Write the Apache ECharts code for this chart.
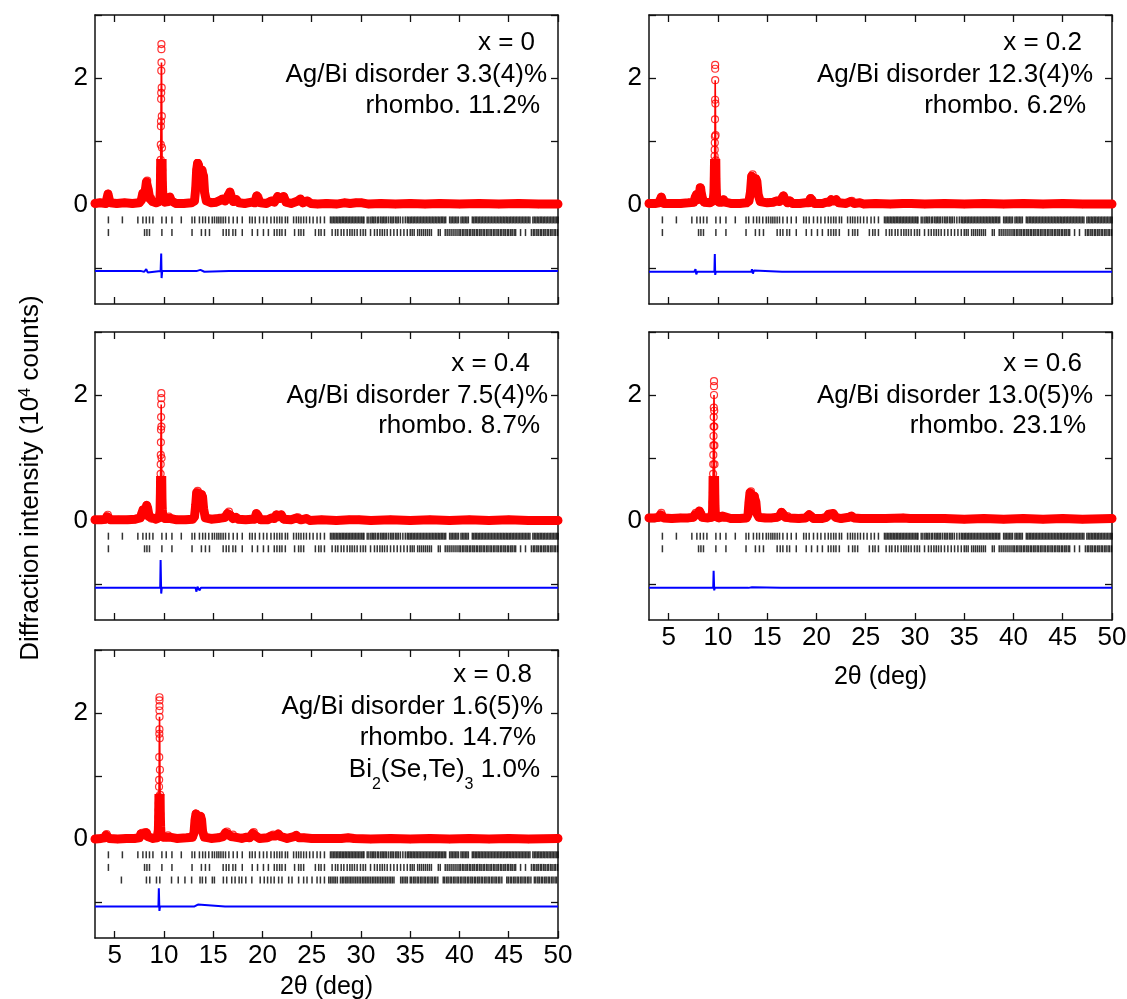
<!DOCTYPE html>
<html>
<head>
<meta charset="utf-8">
<title>Rietveld patterns</title>
<script src="https://cdn.jsdelivr.net/npm/echarts@6/dist/echarts.min.js"></script>
<style>
html, body { margin: 0; padding: 0; background: #fff; }
#chart { width: 1127px; height: 999px; }
</style>
</head>
<body>
<div id="chart"></div>
<script>
// ---- axis ticks / labels ----
var thetaTicks = [5, 10, 15, 20, 25, 30, 35, 40, 45, 50];
var intTicks = [-1, 0, 1, 2, 3];
var intLabels = [0, 2];

var obs0 = [[3,.02],[3.5,.03],[4.1,.02],[4.22,.1],[4.32,.17],[4.42,.1],[4.55,.03],[5.2,.02],[6,.03],[6.8,.02],[7.5,.03],[7.7,.07],[7.85,.18],[7.98,.12],[8.12,.24],[8.22,.36],[8.3,.38],[8.4,.24],[8.55,.1],[8.7,.1],[8.85,.05],[9.2,.03],[9.5,.05],[9.6,.1],[9.63,.24],[9.65,.45],[9.66,.57],[9.67,.71],[9.68,.95],[9.69,1.24],[9.7,1.32],[9.71,1.67],[9.72,1.77],[9.73,2.12],[9.75,2.25],[9.77,1.85],[9.78,1.4],[9.8,.9],[9.82,.55],[9.84,.34],[9.87,.2],[9.92,.08],[10.1,.04],[10.45,.05],[10.6,.12],[10.75,.06],[11.2,.02],[12,.02],[12.8,.03],[13.1,.06],[13.22,.25],[13.32,.55],[13.42,.66],[13.52,.62],[13.62,.5],[13.72,.5],[13.82,.55],[13.92,.54],[14.02,.45],[14.12,.2],[14.3,.06],[14.8,.03],[15.3,.04],[15.6,.06],[15.95,.09],[16.2,.06],[16.5,.14],[16.7,.2],[16.85,.12],[17.05,.05],[17.35,.08],[17.6,.03],[18.2,.02],[18.9,.04],[19.2,.03],[19.42,.14],[19.58,.12],[19.8,.03],[20.4,.02],[20.9,.06],[21.2,.04],[21.55,.13],[21.8,.1],[22.15,.13],[22.4,.04],[22.9,.02],[23.6,.06],[23.85,.09],[24.1,.03],[24.55,.06],[24.9,.02],[25.6,.01],[26.5,.02],[27.5,.01],[28.3,.03],[28.9,.02],[29.5,.03],[30.1,.03],[30.8,.01],[32,.02],[33.5,.01],[35,.02],[36.5,.01],[38,.02],[40,.01],[42,.02],[44,.01],[46,.02],[48,.01],[50,.01]];
var top0 = [[9.74,2.46],[9.74,2.54]];
var diff0 = [[3,-1.05],[4.3,-1.05],[4.35,-1.04],[4.4,-1.06],[4.5,-1.05],[7.7,-1.05],[7.9,-1.03],[8,-1.06],[8.2,-1.02],[8.35,-1.07],[8.5,-1.05],[9.66,-1.05],[9.72,-0.77],[9.76,-1.16],[9.82,-1.05],[10.6,-1.05],[10.65,-1.04],[10.7,-1.05],[13.3,-1.05],[13.4,-1.02],[13.5,-1.05],[13.7,-1.03],[13.9,-1.05],[14.1,-1.06],[14.3,-1.05],[16.6,-1.05],[16.7,-1.08],[16.8,-1.05],[19.4,-1.05],[19.45,-1.04],[19.5,-1.06],[19.6,-1.05],[20.9,-1.05],[21,-1.07],[21.1,-1.05],[23.5,-1.05],[23.6,-1.07],[23.7,-1.05],[28.2,-1.05],[28.3,-1.04],[28.4,-1.05],[50,-1.05]];

var obs1 = [[3,.02],[3.6,.02],[4.05,.03],[4.15,.08],[4.25,.12],[4.35,.07],[4.5,.02],[5.3,.02],[6.2,.02],[7,.03],[7.55,.04],[7.7,.12],[7.82,.16],[7.95,.08],[8.1,.15],[8.2,.27],[8.3,.25],[8.42,.1],[8.6,.04],[9.2,.03],[9.5,.06],[9.58,.16],[9.6,.24],[9.61,.32],[9.62,.4],[9.63,.47],[9.64,.58],[9.65,.66],[9.66,.77],[9.67,.87],[9.68,.98],[9.69,1.08],[9.7,1.35],[9.71,1.66],[9.72,1.97],[9.74,1.6],[9.76,1.1],[9.78,.7],[9.8,.42],[9.83,.22],[9.88,.08],[10.1,.04],[10.4,.04],[10.57,.08],[10.72,.04],[11.3,.02],[12.2,.02],[12.9,.03],[13.15,.06],[13.3,.2],[13.42,.45],[13.52,.48],[13.62,.4],[13.72,.38],[13.85,.41],[13.95,.37],[14.08,.16],[14.3,.05],[15,.03],[15.6,.04],[15.95,.06],[16.25,.05],[16.5,.1],[16.65,.14],[16.8,.08],[17.05,.03],[17.3,.06],[17.55,.02],[18.3,.02],[18.9,.03],[19.2,.03],[19.4,.1],[19.55,.08],[19.8,.02],[20.6,.02],[21,.04],[21.3,.04],[21.5,.08],[21.75,.06],[22,.08],[22.25,.03],[23,.02],[23.45,.05],[23.6,.06],[23.85,.02],[24.4,.03],[24.8,.01],[26,.02],[27.5,.01],[28.8,.02],[29.6,.02],[31,.01],[33,.02],[35,.01],[37,.02],[39,.01],[41,.02],[43,.01],[45,.02],[47,.01],[50,.01]];
var top1 = [[9.715,2.15],[9.715,2.21]];
var diff1 = [[3,-1.06],[4.2,-1.06],[4.25,-1.05],[4.3,-1.06],[7.6,-1.06],[7.72,-1.02],[7.8,-1.1],[7.9,-1.06],[9.64,-1.06],[9.68,-0.78],[9.72,-1.11],[9.78,-1.06],[13.4,-1.06],[13.45,-1.02],[13.55,-1.09],[13.65,-1.04],[13.8,-1.06],[16.5,-1.06],[16.6,-1.04],[16.7,-1.07],[16.8,-1.06],[19.35,-1.06],[19.4,-1.03],[19.5,-1.06],[21.5,-1.06],[21.6,-1.07],[21.7,-1.06],[23.4,-1.06],[23.5,-1.08],[23.6,-1.06],[50,-1.06]];

var obs2 = [[3,.02],[3.6,.02],[4.1,.03],[4.2,.07],[4.3,.1],[4.4,.06],[4.55,.02],[5.4,.02],[6.3,.02],[7.1,.03],[7.6,.05],[7.75,.12],[7.88,.18],[8,.1],[8.15,.18],[8.25,.25],[8.35,.2],[8.5,.07],[8.7,.04],[9.2,.03],[9.5,.05],[9.6,.15],[9.62,.3],[9.64,.45],[9.65,.6],[9.66,.75],[9.67,.9],[9.68,1.05],[9.69,1.25],[9.7,1.45],[9.71,1.65],[9.72,1.85],[9.74,1.5],[9.76,1],[9.78,.6],[9.8,.35],[9.83,.18],[9.88,.07],[10.1,.04],[10.35,.04],[10.5,.07],[10.65,.04],[11.3,.02],[12.2,.02],[12.9,.03],[13.1,.07],[13.22,.25],[13.32,.45],[13.42,.48],[13.52,.45],[13.62,.38],[13.72,.4],[13.82,.42],[13.92,.38],[14.02,.2],[14.2,.05],[14.8,.03],[15.5,.04],[15.95,.05],[16.2,.06],[16.45,.12],[16.6,.15],[16.75,.09],[17,.04],[17.3,.06],[17.55,.03],[18.3,.02],[18.9,.03],[19.2,.03],[19.38,.12],[19.55,.09],[19.8,.02],[20.5,.02],[20.95,.05],[21.2,.04],[21.42,.1],[21.65,.07],[21.9,.1],[22.15,.03],[22.9,.02],[23.45,.05],[23.62,.06],[23.9,.02],[24.45,.04],[24.8,.01],[26,.02],[27.5,.01],[28.8,.02],[29.8,.02],[31,.01],[33,.02],[35,.01],[37,.02],[39,.01],[41,.02],[43,.01],[45,.02],[47,.01],[50,.01]];
var top2 = [[9.73,1.95],[9.73,2.03]];
var diff2 = [[3,-1.06],[8.2,-1.06],[8.25,-1.05],[8.3,-1.07],[8.4,-1.06],[9.62,-1.06],[9.66,-0.62],[9.72,-1.15],[9.78,-1.06],[13.2,-1.06],[13.3,-1.12],[13.4,-1.04],[13.6,-1.1],[13.75,-1.06],[16.4,-1.06],[16.5,-1.09],[16.6,-1.06],[19.35,-1.06],[19.4,-1.04],[19.45,-1.06],[21.4,-1.06],[21.5,-1.07],[21.6,-1.06],[50,-1.06]];

var obs3 = [[3,.05],[3.6,.05],[4.05,.06],[4.15,.1],[4.25,.13],[4.35,.09],[4.5,.05],[5.3,.04],[6.2,.05],[7,.05],[7.5,.06],[7.65,.1],[7.75,.13],[7.88,.1],[8.02,.12],[8.12,.16],[8.25,.12],[8.4,.06],[9,.05],[9.35,.06],[9.45,.15],[9.47,.3],[9.49,.45],[9.5,.6],[9.51,.75],[9.52,.9],[9.53,1.05],[9.54,1.2],[9.55,1.35],[9.56,1.5],[9.57,1.65],[9.58,1.8],[9.6,2],[9.62,1.75],[9.63,1.5],[9.64,1.2],[9.65,.9],[9.66,.65],[9.68,.42],[9.7,.25],[9.73,.13],[9.8,.07],[10.1,.05],[10.3,.06],[10.45,.08],[10.6,.05],[11.3,.04],[12.2,.04],[12.9,.05],[13.05,.1],[13.15,.3],[13.25,.45],[13.35,.47],[13.45,.4],[13.55,.36],[13.65,.4],[13.75,.39],[13.85,.3],[13.95,.12],[14.15,.06],[14.8,.05],[15.5,.05],[16,.06],[16.25,.08],[16.45,.14],[16.6,.12],[16.85,.06],[17.05,.08],[17.3,.05],[18.2,.04],[18.9,.05],[19.25,.1],[19.45,.08],[19.7,.04],[20.5,.04],[21,.06],[21.25,.11],[21.45,.09],[21.7,.12],[21.95,.06],[22.5,.04],[23.3,.06],[23.55,.08],[23.8,.05],[24.5,.04],[25.5,.04],[27,.04],[28.8,.05],[29.5,.04],[31,.04],[33,.04],[35,.03],[37,.04],[39,.03],[41,.04],[43,.03],[45,.04],[47,.03],[50,.04]];
var top3 = [[9.6,2.14],[9.6,2.22]];
var diff3 = [[3,-1.06],[7.7,-1.06],[7.75,-1.05],[7.8,-1.07],[7.9,-1.06],[9.52,-1.06],[9.56,-0.79],[9.62,-1.1],[9.68,-1.06],[13.1,-1.06],[13.2,-1.03],[13.3,-1.09],[13.45,-1.05],[13.6,-1.06],[16.4,-1.06],[16.5,-1.08],[16.6,-1.06],[19.2,-1.06],[19.25,-1.05],[19.3,-1.06],[21.6,-1.06],[21.7,-1.07],[21.8,-1.06],[50,-1.06]];

var obs4 = [[3,0],[3.6,.01],[4,.02],[4.1,.06],[4.18,.08],[4.28,.04],[4.45,.01],[5.3,0],[6.2,.01],[7,.01],[7.5,.02],[7.65,.08],[7.78,.1],[7.95,.08],[8.1,.11],[8.22,.1],[8.35,.04],[8.9,.01],[9.3,.02],[9.4,.05],[9.43,.14],[9.45,.25],[9.46,.35],[9.47,.46],[9.48,.57],[9.49,.67],[9.5,.83],[9.51,.94],[9.52,1.3],[9.53,1.67],[9.54,1.74],[9.55,1.94],[9.57,1.6],[9.59,1.1],[9.61,.7],[9.63,.4],[9.66,.2],[9.7,.08],[9.9,.03],[10.25,.03],[10.42,.06],[10.58,.03],[11.3,.01],[12.3,.02],[12.9,.03],[13.05,.1],[13.15,.3],[13.25,.4],[13.35,.38],[13.45,.3],[13.6,.32],[13.72,.36],[13.82,.3],[13.92,.12],[14.1,.03],[14.8,.01],[15.5,.02],[16,.04],[16.25,.1],[16.4,.12],[16.55,.07],[16.8,.04],[17,.07],[17.2,.03],[17.9,.01],[18.4,.03],[18.7,.02],[19,.09],[19.12,.11],[19.3,.05],[19.7,.01],[20.5,.02],[20.9,.05],[21.1,.07],[21.35,.05],[21.6,.08],[21.85,.04],[22.5,.01],[23.2,.04],[23.42,.06],[23.7,.02],[24.2,.02],[25,.01],[26.5,.01],[28,.01],[28.7,.02],[29.3,.01],[31,0],[33,.01],[35,0],[37,.01],[39,0],[41,.01],[43,0],[45,.01],[47,0],[50,.01]];
var top4 = [[9.545,2.04],[9.545,2.11],[9.545,2.2],[9.545,2.25]];
var diff4 = [[3,-1.07],[7.7,-1.07],[7.75,-1.06],[7.85,-1.08],[7.95,-1.07],[9.44,-1.07],[9.48,-0.78],[9.54,-1.14],[9.6,-1.07],[13.1,-1.07],[13.2,-1.04],[13.3,-1.06],[13.45,-1.04],[13.6,-1.07],[16.2,-1.07],[16.3,-1.1],[16.4,-1.07],[19.05,-1.07],[19.1,-1.04],[19.2,-1.07],[21.4,-1.07],[21.5,-1.09],[21.6,-1.07],[23.4,-1.07],[23.45,-1.06],[23.5,-1.07],[50,-1.07]];

// ---- Bragg reflection positions (2theta) ----
var braggMain = [4.36,5.78,7.35,7.86,8.2,8.53,8.88,9.79,10.23,10.81,11.76,12.85,13.12,13.6,13.93,14.21,14.55,14.9,15.13,15.37,15.57,15.78,16.01,16.25,16.59,17.03,17.44,17.95,18.7,18.96,19.26,19.7,20.1,20.45,20.86,21.2,21.47,21.74,21.98,22.32,22.55,23.16,23.44,23.67,23.91,24.18,24.46,24.79,25.14,25.54,25.88,26.29,
26.9,27.05,27.2,27.35,27.5,27.65,27.8,27.95,28.1,28.25,28.4,28.55,28.7,28.85,29,29.15,29.3,29.45,29.6,29.75,29.9,30.05,30.2,30.3,
30.63,30.8,31,31.15,31.3,31.45,31.65,31.8,32,32.15,32.3,32.45,32.6,32.8,33,33.15,33.3,33.5,33.65,33.8,34,34.25,34.5,34.7,34.85,
35,35.15,35.3,35.45,35.6,35.75,35.9,36.05,36.2,36.35,36.5,36.65,36.8,36.95,37.1,37.25,37.4,37.55,37.7,37.85,38,38.15,38.3,38.45,38.6,
39,39.15,39.3,39.45,39.6,39.75,39.9,40.15,40.3,40.45,40.6,40.75,40.9,
41.3,41.45,41.6,41.75,41.9,42.05,42.2,42.35,42.5,42.65,42.8,42.95,43.1,43.25,43.4,43.55,43.7,43.85,44,44.15,44.3,44.45,44.6,44.75,44.9,45.05,45.2,45.35,45.5,45.65,45.8,45.95,46.1,46.25,46.4,46.55,46.7,46.85,47,47.15,
47.45,47.6,47.75,47.9,48.05,48.2,48.35,48.5,48.65,48.8,48.95,49.1,49.25,49.4,49.55,49.7,49.85,50];
var braggRhombo = [4.36,8.03,8.27,8.53,9.79,10.81,12.85,13.8,14.21,14.62,16.01,16.32,16.59,17,17.27,17.95,18.96,19.5,20.1,20.6,21.2,21.47,21.74,21.98,22.32,23.26,23.67,23.91,24.18,25.37,25.71,25.95,26.29,27.07,27.41,27.65,27.99,28.26,28.6,28.87,29.1,29.34,29.61,29.95,30.22,30.46,30.97,31.37,31.65,31.92,32.16,32.39,32.66,33,33.34,33.68,34.02,34.36,34.7,
35,35.2,35.4,35.75,35.95,36.15,36.35,36.55,36.75,36.95,37.15,37.85,38.05,
38.55,38.75,38.95,39.15,39.35,39.55,39.75,39.95,40.1,40.3,40.45,40.65,40.8,41,41.15,41.35,41.5,41.7,41.85,42.05,42.2,42.4,42.55,42.75,42.9,43.1,43.25,43.45,43.6,43.8,43.95,44.15,44.3,44.5,44.65,44.85,45,45.2,45.35,45.55,45.7,
46.2,46.7,47.3,47.5,47.65,47.85,48,48.2,48.35,48.55,48.7,48.9,49.05,49.25,49.4,49.6,49.75,49.95];
var braggBiSeTe = [5.68,8.22,8.56,9.24,9.58,10.77,11.45,12.13,12.81,13.66,13.9,14.24,14.91,15.12,16.03,16.37,16.88,17.22,17.63,17.9,18.31,18.92,
19.77,20.18,20.52,20.86,21.19,21.64,21.98,22.66,23,23.67,24.18,24.52,25.03,25.54,25.88,26.29,26.73,26.9,27.07,27.25,27.41,27.6,27.92,28.1,28.26,28.45,28.6,28.78,28.94,29.1,29.28,29.45,29.62,29.8,29.96,30.15,30.3,30.47,30.63,30.8,30.97,31.15,31.31,31.48,31.65,31.82,31.99,32.16,32.33,32.5,32.67,32.85,33.01,33.18,33.35,
34.03,34.2,34.37,34.55,34.71,35,35.15,35.35,35.5,35.7,35.85,36.05,36.2,36.4,36.55,36.75,36.9,37.1,37.25,37.45,37.6,37.8,
38.35,38.5,38.7,38.85,39.05,39.2,39.4,39.55,39.75,39.9,40.1,40.25,40.45,40.6,40.8,40.95,41.15,41.3,41.5,41.65,41.85,42,42.2,42.35,42.55,42.7,42.9,43.05,43.25,43.4,43.6,43.75,43.95,44.1,44.3,
44.8,44.95,45.15,45.3,45.5,45.65,45.85,46,46.2,46.35,46.55,46.7,46.9,47.05,47.25,
47.6,47.75,47.95,48.1,48.3,48.45,48.65,48.8,49,49.15,49.35,49.5,49.7,49.85];

// ---- annotations ({sub|..} marks a subscript) ----
var notes0 = ['x = 0', 'Ag/Bi disorder 3.3(4)%', 'rhombo. 11.2%'];
var notes1 = ['x = 0.2', 'Ag/Bi disorder 12.3(4)%', 'rhombo. 6.2%'];
var notes2 = ['x = 0.4', 'Ag/Bi disorder 7.5(4)%', 'rhombo. 8.7%'];
var notes3 = ['x = 0.6', 'Ag/Bi disorder 13.0(5)%', 'rhombo. 23.1%'];
var notes4 = ['x = 0.8', 'Ag/Bi disorder 1.6(5)%', 'rhombo. 14.7%', 'Bi{sub|2}(Se,Te){sub|3} 1.0%'];

var FONT = '"Liberation Sans", Arial, Helvetica, sans-serif';
var RED = '#ff0000', BLUE = '#0000ff', INK = '#111';
var NOTE_SIZE = 26, SUB_SIZE = 16, SUB_DROP = 15;

// panel placement (pixels)
var panels = [
  { obs: obs0, top: top0, diff: diff0, bragg: [braggMain, braggRhombo], notes: notes0,
    left: 95, y0: 15, h: 289, xLabels: false, tx: [535, 547, 540], ty: [43, 75, 106] },
  { obs: obs1, top: top1, diff: diff1, bragg: [braggMain, braggRhombo], notes: notes1,
    left: 649, y0: 15, h: 289, xLabels: false, tx: [1082, 1093, 1086], ty: [43, 75, 106] },
  { obs: obs2, top: top2, diff: diff2, bragg: [braggMain, braggRhombo], notes: notes2,
    left: 95, y0: 332, h: 288, xLabels: false, tx: [530, 548, 540], ty: [364, 396, 426] },
  { obs: obs3, top: top3, diff: diff3, bragg: [braggMain, braggRhombo], notes: notes3,
    left: 649, y0: 332, h: 288, xLabels: true, nameGap: 45, tx: [1082, 1093, 1086], ty: [364, 396, 426] },
  { obs: obs4, top: top4, diff: diff4, bragg: [braggMain, braggRhombo, braggBiSeTe], notes: notes4,
    left: 95, y0: 650, h: 288, xLabels: true, nameGap: 37, tx: [532, 543, 536, 540], ty: [675, 707, 738, 770] }
];
var rowY = [-0.24, -0.44, -0.65];
var rowY5 = [-0.25, -0.45, -0.65];

var grid = [], xAxis = [], yAxis = [], series = [], visualMap = [], graphic = [];

var measure = document.createElement('canvas').getContext('2d');
function textWidth(str, size) {
  measure.font = size + 'px ' + FONT;
  return measure.measureText(str).width;
}

// right-aligned note line; subscripts are placed as separate smaller texts
function pushNote(str, xRight, yMid) {
  var parts = str.split(/\{sub\|([^}]*)\}/);
  var widths = parts.map(function (s, k) { return textWidth(s, k % 2 ? SUB_SIZE : NOTE_SIZE); });
  var x = xRight - widths.reduce(function (a, b) { return a + b; }, 0);
  parts.forEach(function (s, k) {
    if (s) {
      var sub = k % 2 === 1;
      graphic.push({
        type: 'text', x: x, y: sub ? yMid + SUB_DROP : yMid, silent: true,
        style: { text: s, fill: '#000', fontSize: sub ? SUB_SIZE : NOTE_SIZE, fontFamily: FONT, align: 'left', verticalAlign: 'middle' }
      });
    }
    x += widths[k];
  });
}

function axisLineStyle() { return { show: true, onZero: false, lineStyle: { color: INK, width: 1.5 } }; }
function tickStyle(vals) { return { show: true, inside: true, length: 7, customValues: vals, lineStyle: { color: INK, width: 1.3 } }; }

panels.forEach(function (p, i) {
  grid.push({ left: p.left, top: p.y0, width: 463, height: p.h, outerBoundsMode: 'none', containLabel: false });

  var xb = {
    type: 'value', gridIndex: i, position: 'bottom', min: 3, max: 50,
    axisLine: axisLineStyle(), axisTick: tickStyle(thetaTicks), splitLine: { show: false },
    axisLabel: { show: p.xLabels, customValues: thetaTicks, margin: 5, fontSize: 26, fontFamily: FONT, color: '#000' }
  };
  if (p.xLabels) {
    xb.name = '2\u03b8 (deg)';
    xb.nameLocation = 'middle';
    xb.nameGap = p.nameGap;
    xb.nameTextStyle = { fontSize: 25, fontFamily: FONT, color: '#000' };
  }
  xAxis.push(xb);
  xAxis.push({
    type: 'value', gridIndex: i, position: 'top', min: 3, max: 50,
    axisLine: axisLineStyle(), axisTick: tickStyle(thetaTicks), splitLine: { show: false }, axisLabel: { show: false }
  });
  yAxis.push({
    type: 'value', gridIndex: i, position: 'left', min: -1.57, max: 3,
    axisLine: axisLineStyle(), axisTick: tickStyle(intTicks), splitLine: { show: false },
    axisLabel: { customValues: intLabels, margin: 7, fontSize: 26, fontFamily: FONT, color: '#000' }
  });
  yAxis.push({
    type: 'value', gridIndex: i, position: 'right', min: -1.57, max: 3,
    axisLine: axisLineStyle(), axisTick: tickStyle(intTicks), splitLine: { show: false }, axisLabel: { show: false }
  });

  var ax = { xAxisIndex: 2 * i, yAxisIndex: 2 * i };
  // thick band formed by the densely packed observed circles near the baseline;
  // its colour comes from the visualMap so that it stops above ~0.7
  visualMap.push({
    type: 'piecewise', show: false, seriesIndex: series.length, dimension: 1,
    pieces: [{ gte: -5, lt: 0.72, color: RED }, { gte: 0.72, lte: 10, color: 'rgba(255,0,0,0)' }]
  });
  series.push(Object.assign({
    type: 'line', data: p.obs, showSymbol: false, symbol: 'none', z: 2, silent: true,
    lineStyle: { width: 9, join: 'round', cap: 'round' }
  }, ax));
  // calculated profile
  series.push(Object.assign({
    type: 'line', data: p.obs, showSymbol: false, symbol: 'none', z: 3, silent: true,
    lineStyle: { color: RED, width: 1.6 }
  }, ax));
  // observed points
  series.push(Object.assign({
    type: 'scatter', data: p.obs.concat(p.top), symbol: 'circle', symbolSize: 7, z: 4, silent: true,
    itemStyle: { color: 'rgba(255,255,255,0)', borderColor: RED, borderWidth: 1.2 }
  }, ax));
  // difference curve
  series.push(Object.assign({
    type: 'line', data: p.diff, showSymbol: false, symbol: 'none', z: 3, silent: true,
    lineStyle: { color: BLUE, width: 2 }
  }, ax));
  // Bragg markers
  var ry = p.bragg.length === 3 ? rowY5 : rowY;
  p.bragg.forEach(function (list, r) {
    series.push(Object.assign({
      type: 'scatter', data: list.map(function (v) { return [v, ry[r]]; }),
      symbol: 'rect', symbolSize: [1.5, 7], z: 3, silent: true,
      itemStyle: { color: '#000' }
    }, ax));
  });

  p.notes.forEach(function (t, k) { pushNote(t, p.tx[k], p.ty[k]); });
});

// shared intensity axis title
graphic.push({
  type: 'text', x: 31, y: 478, rotation: Math.PI / 2, silent: true,
  style: {
    text: 'Diffraction intensity (10{sup|4} counts)', fill: '#000', fontSize: 26, fontFamily: FONT,
    align: 'center', verticalAlign: 'middle',
    rich: { sup: { fontSize: 16, lineHeight: 16, padding: [0, 0, 16, 0], verticalAlign: 'top', fontFamily: FONT, fill: '#000' } }
  }
});

var chart = echarts.init(document.getElementById('chart'));
chart.setOption({
  animation: false,
  backgroundColor: '#fff',
  grid: grid,
  xAxis: xAxis,
  yAxis: yAxis,
  visualMap: visualMap,
  series: series,
  graphic: graphic
});
</script>
</body>
</html>
